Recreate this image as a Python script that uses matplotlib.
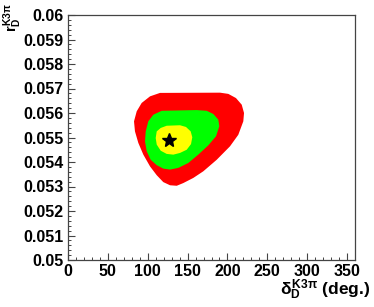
import matplotlib
matplotlib.use('Agg')
import matplotlib.pyplot as plt
from matplotlib.ticker import MultipleLocator, FormatStrFormatter

plt.rcParams['mathtext.fontset'] = 'custom'
plt.rcParams['mathtext.rm'] = 'Liberation Sans:bold'
plt.rcParams['mathtext.it'] = 'Liberation Sans:bold'
plt.rcParams['mathtext.bf'] = 'Liberation Sans:bold'

# contour boundaries (delta in deg, r)
red_delta = [115.4, 102.9, 92.4, 86.2, 82.8, 84.0, 88.2, 94.5, 102.9, 111.3,
             119.5, 128.0, 136.4, 144.6, 157.2, 169.7, 186.5, 203.2, 213.6, 219.9,
             220.8, 217.9, 210.7, 201.1, 190.7]
red_r = [0.05682, 0.05668, 0.05641, 0.05607, 0.05566, 0.05525, 0.05478, 0.05430, 0.05382, 0.05346,
         0.05318, 0.05305, 0.05303, 0.05314, 0.05335, 0.05362, 0.05409, 0.05464, 0.05511, 0.05566,
         0.05600, 0.05634, 0.05661, 0.05678, 0.05683]

green_delta = [117.5, 107.0, 100.7, 97.5, 96.6, 98.7, 103.7, 111.3, 119.5, 128.0,
               138.4, 150.9, 163.4, 176.0, 185.7, 189.8, 188.5, 182.3, 174.0, 161.4]
green_r = [0.05609, 0.05593, 0.05566, 0.05525, 0.05484, 0.05444, 0.05409, 0.05387, 0.05373, 0.05369,
           0.05376, 0.05396, 0.05430, 0.05468, 0.05505, 0.05546, 0.05573, 0.05596, 0.05609, 0.05612]

yellow_delta = [123.8, 116.3, 111.3, 110.0, 111.3, 116.3, 123.8, 132.1, 140.5, 148.9,
                154.3, 155.9, 153.9, 148.0, 140.5]
yellow_r = [0.05548, 0.05539, 0.05525, 0.05498, 0.05471, 0.05446, 0.05433, 0.05430, 0.05437, 0.05450,
            0.05473, 0.05501, 0.05525, 0.05543, 0.05550]

best_delta = 127.1
best_r = 0.05489

fig = plt.figure(figsize=(3.74, 3.07), dpi=100)
ax = fig.add_axes([68/374, 47/307, 287/374, 245/307])

ax.fill(red_delta, red_r, color='#ff0000', lw=0)
ax.fill(green_delta, green_r, color='#00ff00', lw=0)
ax.fill(yellow_delta, yellow_r, color='#ffff00', lw=0)
ax.plot(best_delta, best_r, marker='*', color='black', markersize=10, ls='none')

ax.set_xlim(0, 360)
ax.set_ylim(0.05, 0.06)
ax.xaxis.set_major_locator(MultipleLocator(50))
ax.xaxis.set_minor_locator(MultipleLocator(10))
ax.yaxis.set_major_locator(MultipleLocator(0.001))
ax.yaxis.set_minor_locator(MultipleLocator(0.0002))
ax.yaxis.set_major_formatter(FormatStrFormatter('%g'))

for s in ['left', 'bottom', 'top', 'right']:
    ax.spines[s].set_color('#444444')
    ax.spines[s].set_linewidth(0.9)
ax.tick_params(which='both', direction='in', top=False, right=False, color='#444444')
ax.tick_params(which='major', length=5, width=0.8, labelsize=11.5, pad=3)
ax.tick_params(which='minor', length=2.5, width=0.7)
for lab in ax.get_xticklabels() + ax.get_yticklabels():
    lab.set_fontfamily('Liberation Sans')
    lab.set_fontweight('bold')

fig.text(370/374, 17/307, r'$\delta_{D}^{K3\pi}$ (deg.)', ha='right', va='center',
         fontsize=12.5, fontweight='bold', family='Liberation Sans')
fig.text(13/374, 304/307, r'$r_{D}^{K3\pi}$', ha='center', va='top', rotation=90,
         fontsize=10.5, fontweight='bold', family='Liberation Sans')

fig.savefig('out.png', dpi=100)
